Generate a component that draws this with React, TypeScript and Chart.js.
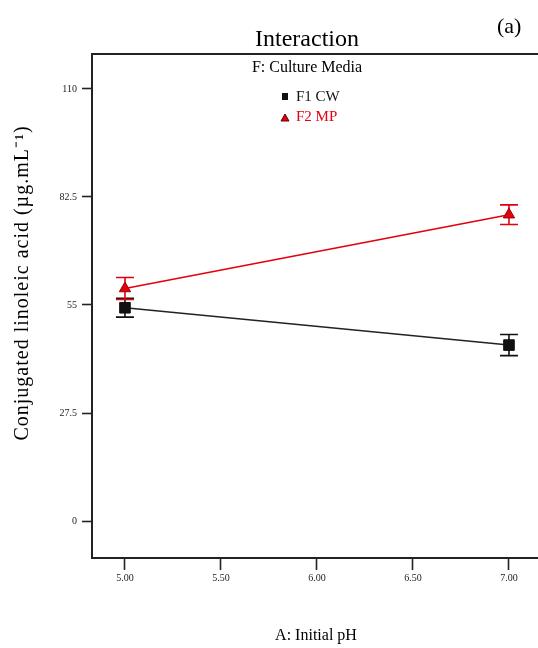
import React, { useEffect, useRef } from "react";
import { Chart, registerables } from "chart.js";

Chart.register(...registerables);

// ---- data ----
const phLevels = [5.0, 7.0];
const xTickValues = [5.0, 5.5, 6.0, 6.5, 7.0];
const yTickValues = [0, 27.5, 55, 82.5, 110];
const f1Label = "F1 CW";
const f1Values = [54.3, 44.8];
const f1Errors = [2.4, 2.7];
const f2Label = "F2 MP";
const f2Values = [59.2, 78.0];
const f2Errors = [2.8, 2.5];

const chartTitle = "Interaction";
const panelTag = "(a)";
const factorTitle = "F: Culture Media";
const xTitle = "A: Initial pH";
const yTitle = "Conjugated linoleic acid (µg.mL⁻¹)";

const BLACK = "#111111";
const RED = "#e3000f";
const SERIF = "'Liberation Serif', 'Times New Roman', serif";

const errorSets = [f1Errors, f2Errors];
const valueSets = [f1Values, f2Values];
const colorSets = [BLACK, RED];

const decorPlugin = {
  id: "decor",
  beforeDatasetsDraw(chart: any) {
    const ctx = chart.ctx;
    const xs = chart.scales.x;
    const ys = chart.scales.y;
    ctx.save();
    for (let d = 0; d < valueSets.length; d++) {
      ctx.strokeStyle = colorSets[d];
      ctx.lineWidth = 1.6;
      for (let j = 0; j < phLevels.length; j++) {
        const x = xs.getPixelForValue(phLevels[j]);
        const yt = ys.getPixelForValue(valueSets[d][j] + errorSets[d][j]);
        const yb = ys.getPixelForValue(valueSets[d][j] - errorSets[d][j]);
        ctx.beginPath();
        ctx.moveTo(x, yt);
        ctx.lineTo(x, yb);
        ctx.moveTo(x - 9, yt);
        ctx.lineTo(x + 9, yt);
        ctx.moveTo(x - 9, yb);
        ctx.lineTo(x + 9, yb);
        ctx.stroke();
      }
    }
    ctx.restore();
  },
  afterDraw(chart: any) {
    const ctx = chart.ctx;
    const area = chart.chartArea;
    ctx.save();
    // top frame line
    ctx.strokeStyle = "#222";
    ctx.lineWidth = 2;
    ctx.beginPath();
    ctx.moveTo(area.left - 1, area.top);
    ctx.lineTo(chart.width, area.top);
    ctx.stroke();

    ctx.fillStyle = "#000";
    ctx.textBaseline = "middle";
    ctx.textAlign = "center";
    ctx.font = `24px ${SERIF}`;
    ctx.fillText(chartTitle, 307, 40);

    ctx.font = `22px ${SERIF}`;
    ctx.textAlign = "left";
    ctx.fillText(panelTag, 497, 27);

    ctx.textAlign = "center";
    ctx.font = `16px ${SERIF}`;
    ctx.fillText(factorTitle, 307, 68);

    // legend
    ctx.textAlign = "left";
    ctx.font = `15px ${SERIF}`;
    ctx.fillStyle = BLACK;
    ctx.fillRect(282, 93, 6, 7);
    ctx.fillText(f1Label, 296, 97);
    ctx.fillStyle = RED;
    ctx.strokeStyle = "#600";
    ctx.lineWidth = 1;
    ctx.beginPath();
    ctx.moveTo(285, 114);
    ctx.lineTo(289, 121);
    ctx.lineTo(281, 121);
    ctx.closePath();
    ctx.fill();
    ctx.stroke();
    ctx.fillStyle = RED;
    ctx.fillText(f2Label, 296, 117);

    // axis titles
    ctx.fillStyle = "#000";
    ctx.textAlign = "center";
    ctx.font = `16px ${SERIF}`;
    ctx.fillText(xTitle, 316, 636);

    ctx.translate(23, 283);
    ctx.rotate(-Math.PI / 2);
    ctx.font = `20px ${SERIF}`;
    try {
      (ctx as any).letterSpacing = "1px";
    } catch (e) {}
    ctx.fillText(yTitle, 0, 0);
    ctx.restore();
  },
};

export default function App() {
  const ref = useRef<HTMLCanvasElement | null>(null);

  useEffect(() => {
    if (!ref.current) return;
    const chart = new Chart(ref.current, {
      type: "line",
      data: {
        datasets: [
          {
            label: f2Label,
            data: phLevels.map((x, i) => ({ x, y: f2Values[i] })),
            borderColor: RED,
            backgroundColor: RED,
            borderWidth: 1.6,
            pointStyle: "triangle",
            pointRadius: 6.5,
            pointBorderColor: "#9a0000",
            pointBorderWidth: 1,
            tension: 0,
            order: 0,
          },
          {
            label: f1Label,
            data: phLevels.map((x, i) => ({ x, y: f1Values[i] })),
            borderColor: "#222",
            backgroundColor: BLACK,
            borderWidth: 1.6,
            pointStyle: "rect",
            pointRadius: 7.5,
            pointBorderColor: BLACK,
            pointBorderWidth: 1,
            tension: 0,
            order: 1,
          },
        ],
      },
      options: {
        animation: false,
        responsive: false,
        devicePixelRatio: 1,
        layout: { autoPadding: false, padding: { top: 54, left: 0, right: 0, bottom: 0 } },
        plugins: {
          legend: { display: false },
          title: { display: false },
          tooltip: { enabled: false },
        },
        scales: {
          x: {
            type: "linear",
            min: 4.8283,
            max: 7.1512,
            afterFit: (s: any) => {
              s.height = 90;
              s.paddingLeft = 0;
              s.paddingRight = 0;
            },
            afterBuildTicks: (s: any) => {
              s.ticks = xTickValues.map((v) => ({ value: v }));
            },
            ticks: {
              callback: (v: any) => Number(v).toFixed(2),
              font: { family: SERIF, size: 10 },
              color: "#222",
              padding: 2,
              maxRotation: 0,
              autoSkip: false,
            },
            grid: {
              drawOnChartArea: false,
              drawTicks: true,
              tickLength: 12,
              tickColor: "#222",
              tickWidth: 1.6,
            },
            border: { display: true, color: "#222", width: 2 },
          },
          y: {
            type: "linear",
            min: -9.42,
            max: 118.91,
            afterFit: (s: any) => {
              s.width = 92;
            },
            afterBuildTicks: (s: any) => {
              s.ticks = yTickValues.map((v) => ({ value: v }));
            },
            ticks: {
              callback: (v: any) => String(v),
              font: { family: SERIF, size: 10 },
              color: "#222",
              padding: 5,
              autoSkip: false,
            },
            grid: {
              drawOnChartArea: false,
              drawTicks: true,
              tickLength: 10,
              tickColor: "#222",
              tickWidth: 1.6,
            },
            border: { display: true, color: "#222", width: 2 },
          },
        },
      },
      plugins: [decorPlugin],
    } as any);
    return () => chart.destroy();
  }, []);

  return (
    <div style={{ position: "absolute", left: 0, top: 0, width: 538, height: 648, background: "#fff" }}>
      <canvas ref={ref} width={538} height={648} />
    </div>
  );
}
